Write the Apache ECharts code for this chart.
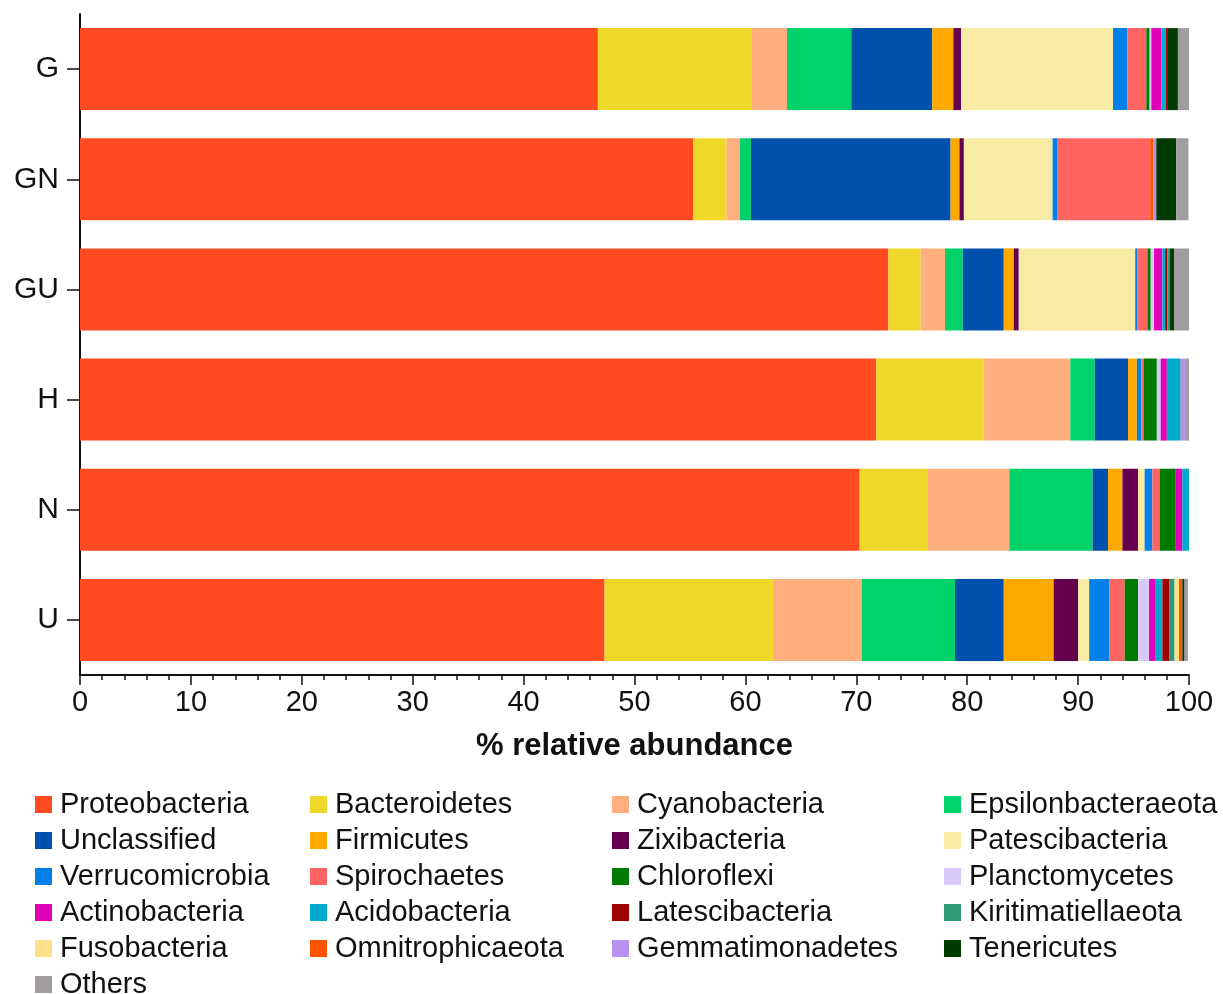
<!DOCTYPE html>
<html>
<head>
<meta charset="utf-8">
<script src="https://cdn.jsdelivr.net/npm/echarts@6/dist/echarts.min.js"></script>
<style>
  html, body { margin: 0; padding: 0; background: #fff; }
  #chart { width: 1223px; height: 994px; }
</style>
</head>
<body>
<div id="chart"></div>
<script>
// Samples (top to bottom)
const samples = ['G', 'GN', 'GU', 'H', 'N', 'U'];

// Phylum relative abundance (%) per sample, in order G, GN, GU, H, N, U
const proteobacteria     = [46.7, 55.3, 72.9, 71.8, 70.3, 47.3];
const bacteroidetes      = [13.9, 3.0, 2.9, 9.7, 6.1, 15.2];
const cyanobacteria      = [3.15, 1.2, 2.2, 7.8, 7.4, 8.0];
const epsilonbacteraeota = [5.8, 1.0, 1.6, 2.2, 7.5, 8.4];
const unclassified       = [7.3, 18.0, 3.7, 3.0, 1.4, 4.4];
const firmicutes         = [1.9, 0.8, 0.9, 0.8, 1.3, 4.5];
const zixibacteria       = [0.7, 0.4, 0.45, 0, 1.4, 2.2];
const patescibacteria    = [13.7, 8.0, 10.5, 0, 0.6, 1.0];
const verrucomicrobia    = [1.3, 0.4, 0.2, 0.4, 0.7, 1.8];
const spirochaetes       = [1.7, 8.4, 0.9, 0.2, 0.65, 1.4];
const chloroflexi        = [0.3, 0, 0.3, 1.2, 1.4, 1.2];
const planctomycetes     = [0.15, 0, 0.3, 0.35, 0, 1.0];
const actinobacteria     = [0.9, 0, 0.75, 0.55, 0.65, 0.6];
const acidobacteria      = [0.4, 0, 0.25, 1.1, 0.6, 0.6];
const latescibacteria    = [0.2, 0, 0.2, 0, 0, 0.6];
const kiritimatiellaeota = [0, 0, 0.2, 0.15, 0, 0.5];
const fusobacteria       = [0, 0, 0, 0, 0, 0.4];
const omnitrophicaeota   = [0, 0.3, 0, 0, 0, 0.3];
const gemmatimonadetes   = [0, 0.25, 0, 0.4, 0, 0];
const tenericutes        = [0.9, 1.8, 0.4, 0, 0, 0.2];
const others             = [1.0, 1.1, 1.4, 0.35, 0, 0.3];

const phyla = [
  ['Proteobacteria', proteobacteria, '#FF4A22'],
  ['Bacteroidetes', bacteroidetes, '#EFD829'],
  ['Cyanobacteria', cyanobacteria, '#FFAE7E'],
  ['Epsilonbacteraeota', epsilonbacteraeota, '#00D26A'],
  ['Unclassified', unclassified, '#0050AE'],
  ['Firmicutes', firmicutes, '#FFA800'],
  ['Zixibacteria', zixibacteria, '#650050'],
  ['Patescibacteria', patescibacteria, '#F8EBA3'],
  ['Verrucomicrobia', verrucomicrobia, '#0080E8'],
  ['Spirochaetes', spirochaetes, '#FF6462'],
  ['Chloroflexi', chloroflexi, '#007A00'],
  ['Planctomycetes', planctomycetes, '#D8CAF8'],
  ['Actinobacteria', actinobacteria, '#E000B8'],
  ['Acidobacteria', acidobacteria, '#00AACC'],
  ['Latescibacteria', latescibacteria, '#A00000'],
  ['Kiritimatiellaeota', kiritimatiellaeota, '#2E9A78'],
  ['Fusobacteria', fusobacteria, '#FFE08A'],
  ['Omnitrophicaeota', omnitrophicaeota, '#FF5500'],
  ['Gemmatimonadetes', gemmatimonadetes, '#B890F0'],
  ['Tenericutes', tenericutes, '#003C00'],
  ['Others', others, '#A09CA0']
];

const xTicks = [0, 10, 20, 30, 40, 50, 60, 70, 80, 90, 100];

const FONT = '"Liberation Sans", Arial, Helvetica, sans-serif';

// Legend: four columns filled row by row; each column is its own vertical legend
const ROW = 36;
const LEG_TOP = 790;
const legendCols = [35, 310, 612, 944];
function legendBlock(left, top, names) {
  return {
    orient: 'vertical',
    left: left,
    top: top,
    padding: 0,
    itemWidth: 17,
    itemHeight: 17,
    itemGap: 7,
    icon: 'rect',
    selectedMode: false,
    textStyle: { fontFamily: FONT, fontSize: 29, color: '#111', lineHeight: 28, padding: [0, 0, 0, 3] },
    data: names
  };
}
const legends = [];
legendCols.forEach((left, c) => {
  // first five rows per column
  const names = phyla.filter((p, i) => i % 4 === c && i < 20).map(p => p[0]);
  legends.push(legendBlock(left, LEG_TOP, names));
});
// sixth row holds the last entry under the first column
legends.push(legendBlock(legendCols[0], LEG_TOP + 5 * ROW, phyla.slice(20).map(p => p[0])));

const series = phyla.map(([name, values, color]) => ({
  name: name,
  type: 'bar',
  stack: 'total',
  barWidth: 82,
  itemStyle: { color: color },
  emphasis: { disabled: true },
  data: values
}));

const chart = echarts.init(document.getElementById('chart'), null, { renderer: 'canvas' });
chart.setOption({
  animation: false,
  backgroundColor: '#fff',
  color: phyla.map(p => p[2]),
  grid: { left: 80, right: 34, top: 14, bottom: 319, containLabel: false },
  legend: legends,
  xAxis: {
    type: 'value',
    min: xTicks[0],
    max: xTicks[xTicks.length - 1],
    interval: 10,
    name: '% relative abundance',
    nameLocation: 'middle',
    nameGap: 56,
    nameTextStyle: { fontFamily: FONT, fontSize: 31, fontWeight: 'bold', color: '#111' },
    axisLine: { show: true, lineStyle: { color: '#111', width: 2 } },
    axisTick: { show: true, length: 10, lineStyle: { color: '#111', width: 1.5 } },
    minorTick: { show: true, splitNumber: 5, length: 5, lineStyle: { color: '#111', width: 1.5 } },
    splitLine: { show: false },
    axisLabel: { fontFamily: FONT, fontSize: 29, color: '#111', margin: 13 }
  },
  yAxis: {
    type: 'category',
    inverse: true,
    data: samples,
    axisLine: { show: true, lineStyle: { color: '#111', width: 2 } },
    axisTick: { show: true, alignWithLabel: true, length: 13, lineStyle: { color: '#111', width: 1.5 } },
    axisLabel: { fontFamily: FONT, fontSize: 30, color: '#111', margin: 21 }
  },
  series: series
});
</script>
</body>
</html>
